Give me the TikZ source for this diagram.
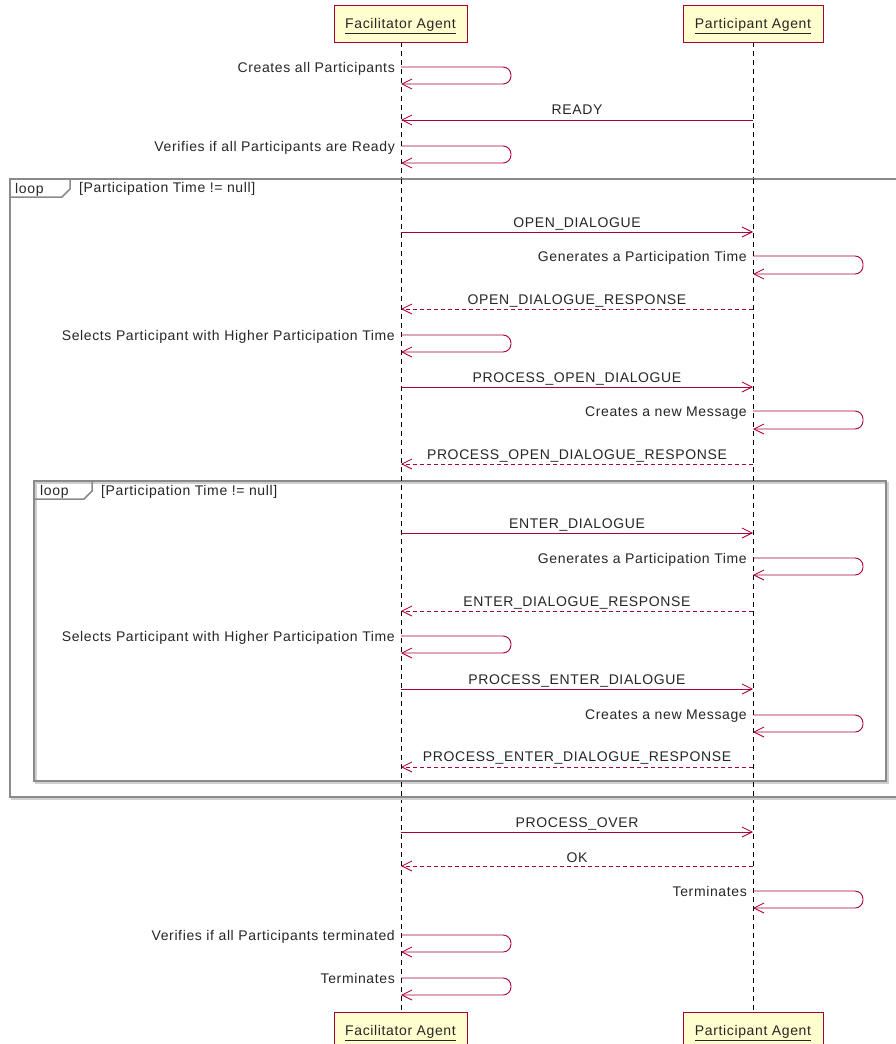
\documentclass[tikz,border=0pt]{standalone}
\usepackage{fontspec}
\setmainfont{Liberation Sans}[LetterSpace=4.5]
\usetikzlibrary{arrows.meta}
\definecolor{uml}{HTML}{A80036}
\definecolor{umlfill}{HTML}{FEFECE}
\definecolor{framecol}{HTML}{8A8A8A}
\definecolor{shadowcol}{HTML}{D0D0D0}
\tikzset{
  msg/.style={draw=uml, line width=0.9pt, -{Straight Barb[length=10pt,width=10pt,line width=0.8pt]}},
  retmsg/.style={msg, dash pattern=on 4pt off 3pt},
  selfmsg/.style={msg, rounded corners=8pt},
  lifeline/.style={draw=black, line width=0.9pt, dash pattern=on 5pt off 4pt},
  actor/.style={draw=uml, fill=umlfill, line width=1pt, minimum height=37pt, inner sep=0pt, font=\fontsize{14pt}{16pt}\selectfont, text=black!85, text height=10pt, text depth=0pt},
  lbl/.style={font=\fontsize{14pt}{16pt}\selectfont, inner sep=0pt, text=black!85},
  framebox/.style={draw=framecol, line width=1.5pt},
  frameshadow/.style={draw=shadowcol, line width=1.5pt},
}
\begin{document}
\begin{tikzpicture}[x=1pt,y=-1pt]
\useasboundingbox (0,0) rectangle (896,1044);
\clip (0,0) rectangle (896,1044);
% lifelines
\coordinate (Ftop) at (401,42);
\coordinate (Fbot) at (401,1012);
\coordinate (Ptop) at (753,42);
\coordinate (Pbot) at (753,1012);
\draw[lifeline] (Ftop) -- (Fbot);
\draw[lifeline] (Ptop) -- (Pbot);
% heads
\node[actor, minimum width=133pt] (fhead) at (400.5,23.5) {\underline{Facilitator Agent}};
\node[actor, minimum width=140pt] (phead) at (753,23.5) {\underline{Participant Agent}};
\node[actor, minimum width=133pt] (ffoot) at (400.5,1030.5) {\underline{Facilitator Agent}};
\node[actor, minimum width=140pt] (pfoot) at (753,1030.5) {\underline{Participant Agent}};

% frames
\draw[frameshadow] (12,181) rectangle (908,799);
\draw[framebox, fill=white] (10,179) rectangle (906,797);
\draw[framebox] (10,197) -- (62,197) -- (70,189) -- (70,179);
\node[lbl, anchor=base west] (loopA) at (15,193) {loop};
\node[lbl, anchor=base west] (condA) at (79,192) {[Participation Time != null]};

\draw[frameshadow] (36,483) rectangle (888,783);
\draw[framebox] (34,481) rectangle (886,781);
\draw[framebox] (34,499) -- (84,499) -- (92,491) -- (92,481);
\node[lbl, anchor=base west] (loopB) at (40,495) {loop};
\node[lbl, anchor=base west] (condB) at (101,495) {[Participation Time != null]};
\draw[lifeline] (401,179) -- (401,797);
\draw[lifeline] (753,179) -- (753,797);

% Facilitator: Creates all Participants
\coordinate (s1a) at (401,67); \coordinate (s1b) at (401,84);
\draw[selfmsg] (s1a) -- (511,67) -- (511,84) -- (s1b);
\node[lbl, anchor=base east] (s1l) at (395,72) {Creates all Participants};

% READY
\coordinate (m1a) at (753,120); \coordinate (m1b) at (401,120);
\draw[msg] (m1a) -- (m1b);
\node[lbl, anchor=base] (m1l) at (577,114) {READY};

% Verifies ready
\coordinate (s2a) at (401,146); \coordinate (s2b) at (401,163);
\draw[selfmsg] (s2a) -- (511,146) -- (511,163) -- (s2b);
\node[lbl, anchor=base east] (s2l) at (395,151) {Verifies if all Participants are Ready};

% OPEN_DIALOGUE
\coordinate (m2a) at (401,232); \coordinate (m2b) at (753,232);
\draw[msg] (m2a) -- (m2b);
\node[lbl, anchor=base] (m2l) at (577,227) {OPEN\_DIALOGUE};

\coordinate (s3a) at (753,256); \coordinate (s3b) at (753,274);
\draw[selfmsg] (s3a) -- (863,256) -- (863,274) -- (s3b);
\node[lbl, anchor=base east] (s3l) at (747,261) {Generates a Participation Time};

\coordinate (m3a) at (753,309); \coordinate (m3b) at (401,309);
\draw[retmsg] (m3a) -- (m3b);
\node[lbl, anchor=base] (m3l) at (577,304) {OPEN\_DIALOGUE\_RESPONSE};

\coordinate (s4a) at (401,335); \coordinate (s4b) at (401,352);
\draw[selfmsg] (s4a) -- (511,335) -- (511,352) -- (s4b);
\node[lbl, anchor=base east] (s4l) at (395,340) {Selects Participant with Higher Participation Time};

\coordinate (m4a) at (401,387); \coordinate (m4b) at (753,387);
\draw[msg] (m4a) -- (m4b);
\node[lbl, anchor=base] (m4l) at (577,382) {PROCESS\_OPEN\_DIALOGUE};

\coordinate (s5a) at (753,411); \coordinate (s5b) at (753,429);
\draw[selfmsg] (s5a) -- (863,411) -- (863,429) -- (s5b);
\node[lbl, anchor=base east] (s5l) at (747,416) {Creates a new Message};

\coordinate (m5a) at (753,464); \coordinate (m5b) at (401,464);
\draw[retmsg] (m5a) -- (m5b);
\node[lbl, anchor=base] (m5l) at (577,459) {PROCESS\_OPEN\_DIALOGUE\_RESPONSE};

% inner loop
\coordinate (m6a) at (401,533); \coordinate (m6b) at (753,533);
\draw[msg] (m6a) -- (m6b);
\node[lbl, anchor=base] (m6l) at (577,528) {ENTER\_DIALOGUE};

\coordinate (s6a) at (753,558); \coordinate (s6b) at (753,575);
\draw[selfmsg] (s6a) -- (863,558) -- (863,575) -- (s6b);
\node[lbl, anchor=base east] (s6l) at (747,563) {Generates a Participation Time};

\coordinate (m7a) at (753,611); \coordinate (m7b) at (401,611);
\draw[retmsg] (m7a) -- (m7b);
\node[lbl, anchor=base] (m7l) at (577,606) {ENTER\_DIALOGUE\_RESPONSE};

\coordinate (s7a) at (401,636); \coordinate (s7b) at (401,653);
\draw[selfmsg] (s7a) -- (511,636) -- (511,653) -- (s7b);
\node[lbl, anchor=base east] (s7l) at (395,641) {Selects Participant with Higher Participation Time};

\coordinate (m8a) at (401,689); \coordinate (m8b) at (753,689);
\draw[msg] (m8a) -- (m8b);
\node[lbl, anchor=base] (m8l) at (577,684) {PROCESS\_ENTER\_DIALOGUE};

\coordinate (s8a) at (753,715); \coordinate (s8b) at (753,732);
\draw[selfmsg] (s8a) -- (863,715) -- (863,732) -- (s8b);
\node[lbl, anchor=base east] (s8l) at (747,719) {Creates a new Message};

\coordinate (m9a) at (753,767); \coordinate (m9b) at (401,767);
\draw[retmsg] (m9a) -- (m9b);
\node[lbl, anchor=base] (m9l) at (577,761) {PROCESS\_ENTER\_DIALOGUE\_RESPONSE};

% after loop
\coordinate (m10a) at (401,832); \coordinate (m10b) at (753,832);
\draw[msg] (m10a) -- (m10b);
\node[lbl, anchor=base] (m10l) at (577,827) {PROCESS\_OVER};

\coordinate (m11a) at (753,866); \coordinate (m11b) at (401,866);
\draw[retmsg] (m11a) -- (m11b);
\node[lbl, anchor=base] (m11l) at (577,862) {OK};

\coordinate (s9a) at (753,891); \coordinate (s9b) at (753,908);
\draw[selfmsg] (s9a) -- (863,891) -- (863,908) -- (s9b);
\node[lbl, anchor=base east] (s9l) at (747,896) {Terminates};

\coordinate (s10a) at (401,935); \coordinate (s10b) at (401,952);
\draw[selfmsg] (s10a) -- (511,935) -- (511,952) -- (s10b);
\node[lbl, anchor=base east] (s10l) at (395,940) {Verifies if all Participants terminated};

\coordinate (s11a) at (401,978); \coordinate (s11b) at (401,995);
\draw[selfmsg] (s11a) -- (511,978) -- (511,995) -- (s11b);
\node[lbl, anchor=base east] (s11l) at (395,983) {Terminates};
\end{tikzpicture}
\end{document}
